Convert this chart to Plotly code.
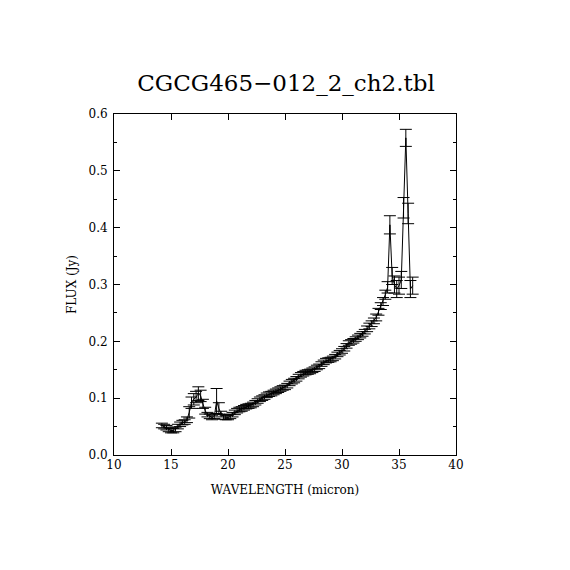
import plotly.graph_objects as go

# spectrum (micron, Jy)
wavelength = [14.2, 14.4, 14.6, 14.8, 15.0, 15.2, 15.4, 15.6, 15.8, 16.0,
              16.2, 16.4, 16.6, 16.8, 17.0, 17.2, 17.4, 17.6, 17.8, 18.0,
              18.2, 18.4, 18.6, 18.8, 19.0, 19.2, 19.4, 19.6, 19.8, 20.0,
              20.2, 20.4, 20.6, 20.8, 21.0, 21.2, 21.4, 21.6, 21.8, 22.0,
              22.2, 22.4, 22.6, 22.8, 23.0, 23.2, 23.4, 23.6, 23.8, 24.0,
              24.2, 24.4, 24.6, 24.8, 25.0, 25.2, 25.4, 25.6, 25.8, 26.0,
              26.2, 26.4, 26.6, 26.8, 27.0, 27.2, 27.4, 27.6, 27.8, 28.0,
              28.2, 28.4, 28.6, 28.8, 29.0, 29.2, 29.4, 29.6, 29.8, 30.0,
              30.2, 30.4, 30.6, 30.8, 31.0, 31.2, 31.4, 31.6, 31.8, 32.0,
              32.2, 32.4, 32.6, 32.8, 33.0, 33.2, 33.4, 33.6, 33.8, 34.0,
              34.2, 34.4, 34.6, 34.8, 35.0, 35.2, 35.4, 35.6, 35.8, 36.0,
              36.2]
flux = [0.052, 0.050, 0.048, 0.045, 0.043, 0.043, 0.045, 0.050, 0.054, 0.057,
        0.058, 0.062, 0.075, 0.092, 0.098, 0.102, 0.108, 0.104, 0.090, 0.078,
        0.071, 0.068, 0.066, 0.068, 0.095, 0.082, 0.072, 0.067, 0.066, 0.066,
        0.068, 0.071, 0.075, 0.078, 0.080, 0.081, 0.083, 0.085, 0.086, 0.087,
        0.089, 0.092, 0.095, 0.098, 0.100, 0.102, 0.105, 0.107, 0.108, 0.110,
        0.112, 0.114, 0.116, 0.118, 0.119, 0.122, 0.126, 0.129, 0.131, 0.134,
        0.138, 0.141, 0.143, 0.145, 0.146, 0.147, 0.149, 0.151, 0.154, 0.156,
        0.160, 0.163, 0.166, 0.167, 0.168, 0.170, 0.173, 0.177, 0.180, 0.183,
        0.187, 0.192, 0.197, 0.199, 0.201, 0.204, 0.207, 0.210, 0.213, 0.217,
        0.222, 0.227, 0.231, 0.236, 0.242, 0.252, 0.262, 0.270, 0.282, 0.295,
        0.405, 0.315, 0.300, 0.292, 0.298, 0.308, 0.435, 0.558, 0.425, 0.292,
        0.298]
flux_err = [0.004, 0.004, 0.004, 0.004, 0.004, 0.004, 0.004, 0.004, 0.004, 0.004,
            0.004, 0.005, 0.010, 0.010, 0.010, 0.010, 0.012, 0.010, 0.008, 0.006,
            0.004, 0.004, 0.004, 0.004, 0.022, 0.010, 0.005, 0.004, 0.004, 0.004,
            0.004, 0.004, 0.004, 0.004, 0.004, 0.004, 0.004, 0.004, 0.004, 0.004,
            0.004, 0.004, 0.004, 0.004, 0.004, 0.004, 0.004, 0.004, 0.004, 0.004,
            0.004, 0.004, 0.004, 0.004, 0.004, 0.004, 0.004, 0.004, 0.004, 0.004,
            0.004, 0.004, 0.004, 0.004, 0.004, 0.004, 0.004, 0.004, 0.004, 0.004,
            0.004, 0.004, 0.004, 0.004, 0.004, 0.004, 0.004, 0.004, 0.004, 0.004,
            0.004, 0.004, 0.004, 0.004, 0.004, 0.004, 0.004, 0.004, 0.004, 0.004,
            0.005, 0.005, 0.005, 0.005, 0.006, 0.006, 0.006, 0.007, 0.008, 0.010,
            0.016, 0.015, 0.015, 0.015, 0.015, 0.015, 0.018, 0.015, 0.018, 0.015,
            0.015]

FONT = "DejaVu Serif"

fig = go.Figure()
fig.add_trace(go.Scatter(
    x=wavelength, y=flux, mode="lines",
    line=dict(color="black", width=1),
    error_y=dict(type="data", array=flux_err, visible=True,
                 color="black", thickness=1, width=6),
    showlegend=False,
))

axis_common = dict(
    showline=True, linecolor="black", linewidth=1, mirror="allticks",
    ticks="inside", ticklen=6, tickcolor="black", tickwidth=1,
    showgrid=False, zeroline=False,
    tickfont=dict(family=FONT, size=12, color="black"),
)

fig.update_xaxes(range=[10, 40], dtick=5, tick0=10, ticklabelstandoff=-1,
                 title=dict(text="WAVELENGTH (micron)",
                            font=dict(family=FONT, size=12, color="black"),
                            standoff=14),
                 **axis_common)
fig.update_yaxes(range=[0, 0.6], dtick=0.1, tick0=0, tickformat=".1f",
                 ticklabelstandoff=3,
                 minor=dict(dtick=0.05, ticks="inside", ticklen=3,
                            tickcolor="black", showgrid=False),
                 title=dict(text="FLUX (Jy)",
                            font=dict(family=FONT, size=12, color="black"),
                            standoff=9),
                 **axis_common)

# page body has an 8px margin, so the figure is shifted to compensate
fig.update_layout(
    width=562, height=562, autosize=False,
    margin=dict(l=106, r=114, t=106, b=115),
    paper_bgcolor="white", plot_bgcolor="white",
    title=dict(text="CGCG465\u2212012_2_ch2.tbl", x=(286 - 8) / 562,
               xanchor="center", y=1 - 75 / 562, yanchor="middle",
               font=dict(family=FONT, size=23, color="black")),
)

fig.write_html("out.html")
